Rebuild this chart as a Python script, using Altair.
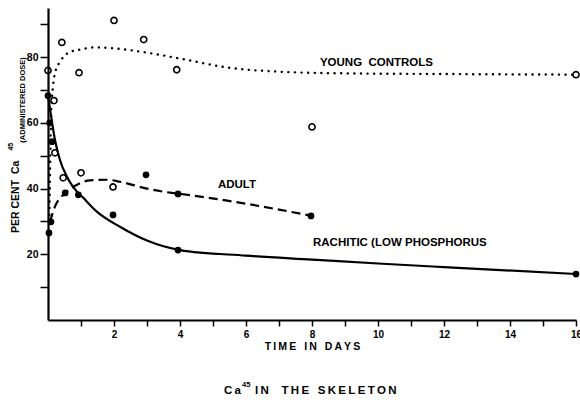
import altair as alt
import pandas as pd

# ---- curves ----
young_curve_days = [0.04, 0.07, 0.10, 0.15, 0.22, 0.37, 0.62, 1.0, 1.4, 2.0, 3.0, 4.0, 5.5, 7.0, 9.0, 12.0, 16.0]
young_curve_vals = [30, 50, 64, 71, 75.5, 78.7, 81.4, 82.4, 83.0, 82.7, 81.4, 79.6, 76.8, 75.6, 75.1, 74.9, 74.7]

adult_curve_days = [0.06, 0.21, 0.52, 0.82, 1.27, 1.8, 2.18, 3.0, 3.75, 4.0, 6.0, 8.0]
adult_curve_vals = [29.9, 34.5, 38.7, 40.9, 42.5, 42.7, 42.1, 40.0, 38.7, 38.4, 35.4, 31.7]

rach_curve_days = [0.0, 0.08, 0.21, 0.36, 0.57, 0.76, 1.07, 1.48, 2.18, 3.0, 4.0, 6.0, 8.0, 10.0, 12.0, 16.0]
rach_curve_vals = [68.3, 63, 54.9, 48.8, 43.7, 40.5, 37.2, 33.0, 28.4, 24.2, 21.3, 19.6, 18.4, 17.2, 16.1, 14.0]

# ---- observed points ----
open_days = [0.0, 0.18, 0.42, 0.94, 2.0, 2.9, 3.9, 8.0, 16.0, 0.21, 0.46, 1.0, 1.97]
open_vals = [76.0, 66.8, 84.5, 75.3, 91.2, 85.4, 76.2, 58.8, 74.7, 50.9, 43.3, 44.8, 40.5]

filled_days = [0.0, 0.05, 0.12, 0.92, 3.94, 16.0, 0.09, 0.03, 0.52, 1.97, 2.97, 3.94, 7.97]
filled_vals = [68.3, 60.0, 54.3, 38.1, 21.3, 14.0, 29.9, 26.5, 38.7, 32.0, 44.2, 38.4, 31.7]

# ---- labels ----
TS = "\u2009"   # thin space (letter spacing)
NB = "\u00a0"   # non-collapsing space (word gaps)
def spaced(*words, gap=NB + NB + TS):
    return gap.join(TS.join(list(w)) for w in words)

series_labels = ["YOUNG" + NB + NB + "CONTROLS", "ADULT", "RACHITIC" + NB + "(LOW" + NB + "PHOSPHORUS"]
label_days = [8.24, 5.15, 8.03]
label_vals = [78.3, 41.1, 23.5]

x_ticks = list(range(1, 17))
y_ticks = list(range(10, 100, 10))

FONT = "Liberation Sans"

curves = pd.concat([
    pd.DataFrame({"series": "young", "day": young_curve_days, "value": young_curve_vals}),
    pd.DataFrame({"series": "adult", "day": adult_curve_days, "value": adult_curve_vals}),
    pd.DataFrame({"series": "rach", "day": rach_curve_days, "value": rach_curve_vals}),
])

x_scale = alt.Scale(domain=[0, 16], nice=False, zero=False)
y_scale = alt.Scale(domain=[0, 95], nice=False)

x_axis = alt.Axis(values=x_ticks,
                  labelExpr="datum.value % 2 == 0 ? datum.label : ''",
                  title=spaced("TIME", "IN", "DAYS"),
                  titleFont=FONT, titleFontSize=10.5,
                  titleFontWeight="bold", titleY=26, titleBaseline="middle",
                  labelFont=FONT, labelFontSize=10, labelFontWeight="bold",
                  labelOverlap=False, labelFlush=False, labelPadding=3, tickSize=6, tickWidth=1.5,
                  domainWidth=2.2, domainColor="black", tickColor="black",
                  labelColor="black", titleColor="black", grid=False)
y_axis = alt.Axis(values=y_ticks,
                  labelExpr="datum.value % 20 == 0 ? datum.label : ''",
                  title=None, labelFont=FONT, labelFontSize=10.5, labelFontWeight="bold",
                  labelOverlap=False, labelPadding=2, tickSize=8, tickWidth=1.5, domainWidth=2.2,
                  domainColor="black", tickColor="black", labelColor="black", grid=False)

X = alt.X("day:Q", scale=x_scale, axis=x_axis)
Y = alt.Y("value:Q", scale=y_scale, axis=y_axis)

base_line = alt.Chart(curves)

young = base_line.transform_filter("datum.series == 'young'").mark_line(
    color="black", strokeWidth=2.4, strokeDash=[0.1, 6.5], strokeCap="round",
    interpolate="monotone").encode(x=X, y=Y, order="day:Q")
adult = base_line.transform_filter("datum.series == 'adult'").mark_line(
    color="black", strokeWidth=2.2, strokeDash=[9, 5],
    interpolate="monotone").encode(x=X, y=Y, order="day:Q")
rach = base_line.transform_filter("datum.series == 'rach'").mark_line(
    color="black", strokeWidth=2.2, interpolate="monotone").encode(
    x=X, y=Y, order="day:Q")

open_pts = alt.Chart(pd.DataFrame({"day": open_days, "value": open_vals})).mark_point(
    shape="circle", filled=False, color="black", size=38, strokeWidth=1.6, opacity=1
).encode(x=X, y=Y)
filled_pts = alt.Chart(pd.DataFrame({"day": filled_days, "value": filled_vals})).mark_circle(
    color="black", size=45, opacity=1).encode(x=X, y=Y)

labels = alt.Chart(pd.DataFrame({"day": label_days, "value": label_vals, "text": series_labels})).mark_text(
    align="left", baseline="middle", font=FONT, fontSize=11.5, fontWeight="bold", color="black"
).encode(x=X, y=Y, text="text:N")

# y-axis title pieces (rotated)
ytitle_main = alt.Chart(pd.DataFrame({"day": [-0.97], "value": [26.5],
                                      "text": ["PER" + NB + "CENT" + NB + NB + "Ca"]})).mark_text(
    angle=270, align="left", baseline="middle", font=FONT, fontSize=10.5, fontWeight="bold", color="black"
).encode(x=X, y=Y, text="text:N")
ytitle_sup = alt.Chart(pd.DataFrame({"day": [-1.12], "value": [51.6], "text": ["45"]})).mark_text(
    angle=270, align="left", baseline="middle", font=FONT, fontSize=7, fontWeight="bold", color="black"
).encode(x=X, y=Y, text="text:N")
ytitle_sub = alt.Chart(pd.DataFrame({"day": [-0.76], "value": [54.0],
                                     "text": ["(ADMINISTERED" + NB + "DOSE)"]})).mark_text(
    angle=270, align="left", baseline="middle", font=FONT, fontSize=7.5, fontWeight="bold", color="black"
).encode(x=X, y=Y, text="text:N")

# bottom caption: "Ca" + superscript "45" + "IN THE SKELETON"
cap_ca = alt.Chart(pd.DataFrame({"day": [5.33], "value": [-21.6], "text": ["C" + TS + "a"]})).mark_text(
    align="left", baseline="middle", font=FONT, fontSize=11.5, fontWeight="bold", color="black"
).encode(x=X, y=Y, text="text:N")
cap_sup = alt.Chart(pd.DataFrame({"day": [5.88], "value": [-19.7], "text": ["45"]})).mark_text(
    align="left", baseline="middle", font=FONT, fontSize=7.5, fontWeight="bold", color="black"
).encode(x=X, y=Y, text="text:N")
cap_rest = alt.Chart(pd.DataFrame({"day": [6.27], "value": [-21.6],
                                   "text": [TS.join("IN") + NB * 4 + TS.join("THE") + NB * 2 + TS
                                            + TS.join("SKELETON")]})).mark_text(
    align="left", baseline="middle", font=FONT, fontSize=11.5, fontWeight="bold", color="black"
).encode(x=X, y=Y, text="text:N")

chart = alt.layer(
    young, adult, rach, open_pts, filled_pts, labels,
    ytitle_main, ytitle_sup, ytitle_sub, cap_ca, cap_sup, cap_rest
).properties(
    width=528, height=312,
    autosize=alt.AutoSizeParams(type="none"),
    padding={"left": 48, "top": 8, "right": 4, "bottom": 83},
    background="white",
).configure_view(stroke=None)

chart.save("out.html", embed_options={"renderer": "svg", "actions": False})
